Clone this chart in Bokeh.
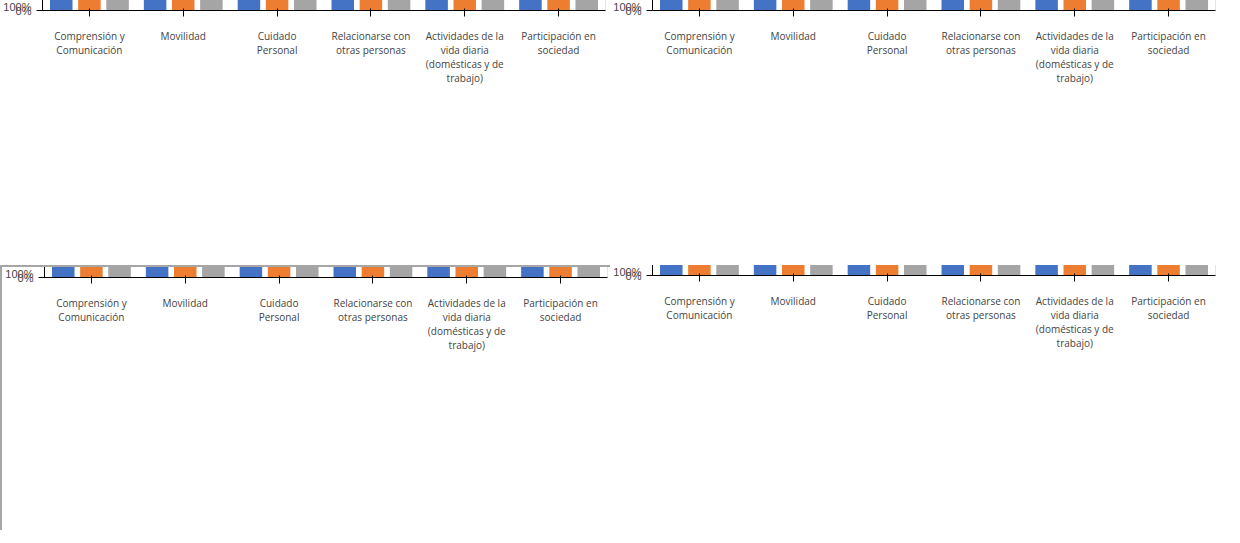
from bokeh.plotting import figure
from bokeh.layouts import gridplot
from bokeh.models import ColumnDataSource, Legend, LegendItem, FixedTicker, PrintfTickFormatter, Range1d
from bokeh.transform import dodge
from bokeh.embed import file_html
from bokeh.resources import INLINE

categories = [
    "Comprensión y\nComunicación",
    "Movilidad",
    "Cuidado\nPersonal",
    "Relacionarse con\notras personas",
    "Actividades de la\nvida diaria\n(domésticas y de\ntrabajo)",
    "Participación en\nsociedad",
]
severa = [17.6, 5.9, 5.9, 11.8, 23.5, 17.6]
moderada = [11.8, 17.6, 5.9, 23.5, 23.5, 23.5]
no_evidencia = [70.6, 76.5, 88.2, 64.7, 52.9, 58.8]
series_names = ["Evidencia discapacidad severa", "Evidencia discapacidad moderada", "No evidencia discapacidad"]
colors = ["#4472C4", "#ED7D31", "#A5A5A5"]
y_ticks = [0, 20, 40, 60, 80, 100]
FONT = "Open Sans"


def make(legend_mode, styles):
    source = ColumnDataSource(data=dict(cat=categories, severa=severa, moderada=moderada, no=no_evidencia))
    p = figure(x_range=categories, y_range=Range1d(0, 100), width=610, height=265,
               output_backend="svg", toolbar_location=None, min_border_top=10)
    if styles:
        p.styles = {"border-top": "2px solid #a6a6a6", "border-left": "2px solid #a6a6a6"}
    rs = []
    for key, off, col in zip(["severa", "moderada", "no"], [-0.30, 0.0, 0.30], colors):
        rs.append(p.vbar(x=dodge("cat", off, range=p.x_range), top=key, width=0.24, source=source,
                         fill_color=col, line_color=None))
    p.yaxis.ticker = FixedTicker(ticks=y_ticks)
    p.yaxis.formatter = PrintfTickFormatter(format="%d%%")
    p.xaxis.major_label_text_font = FONT
    p.xaxis.major_label_text_font_size = "10px"
    p.xaxis.major_label_text_line_height = 1.0
    p.xaxis.major_label_standoff = 12
    p.xaxis.major_label_orientation = "horizontal"
    if legend_mode:
        legend = Legend(items=[LegendItem(label=n, renderers=[r]) for n, r in zip(series_names, rs)],
                        orientation="horizontal", location=legend_mode,
                        label_text_font_size="10px", padding=0, margin=0)
        p.add_layout(legend, "below")
    return p


g = gridplot([[make(None, False), make("center", False)], [make("center", True), make((-11, 0), False)]],
             toolbar_location=None)
open("out.html", "w").write(file_html(g, INLINE))
